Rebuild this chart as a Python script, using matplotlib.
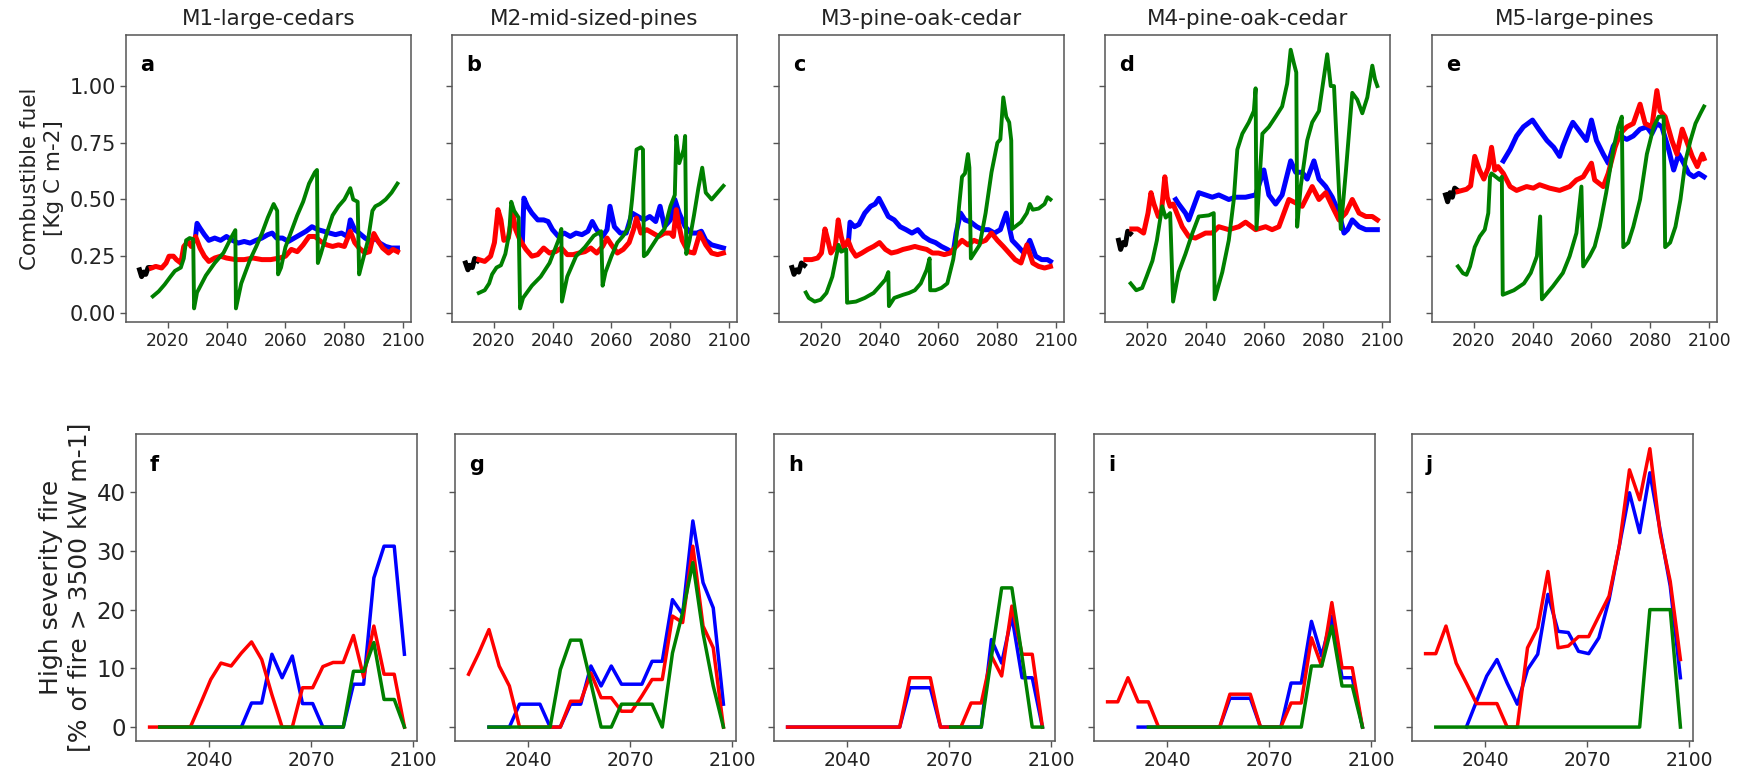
import numpy as np
import matplotlib
matplotlib.use("Agg")
import matplotlib.pyplot as plt

titles = ["M1-large-cedars", "M2-mid-sized-pines", "M3-pine-oak-cedar",
          "M4-pine-oak-cedar", "M5-large-pines"]
letters_top = ["a", "b", "c", "d", "e"]
letters_bot = ["f", "g", "h", "i", "j"]

# ---- top row: combustible fuel, (year, value) pairs ----
a_black = [(2010.5, 0.19), (2011.2, 0.16), (2011.9, 0.18), (2012.6, 0.17), (2013.4, 0.20), (2014.3, 0.20)]
a_red = [(2014.5, 0.198), (2016, 0.205), (2018, 0.198), (2019.5, 0.22), (2020.5, 0.25), (2022, 0.25),
         (2023, 0.235), (2024.5, 0.22), (2025.5, 0.293), (2027, 0.315), (2028, 0.293), (2029.5, 0.337),
         (2031, 0.286), (2032.5, 0.25), (2034, 0.227), (2036, 0.242), (2038, 0.25), (2040, 0.242),
         (2043, 0.235), (2046, 0.235), (2049, 0.242), (2052, 0.235), (2055, 0.235), (2058, 0.242),
         (2060, 0.25), (2062, 0.28), (2064, 0.27), (2066, 0.30), (2068, 0.337), (2070, 0.337),
         (2072, 0.315), (2074, 0.30), (2076, 0.293), (2078, 0.30), (2080, 0.293), (2082, 0.36),
         (2083.5, 0.31), (2085, 0.286), (2087, 0.264), (2088.5, 0.27), (2090, 0.35), (2091.5, 0.315),
         (2093, 0.286), (2095, 0.264), (2096.5, 0.28), (2098, 0.27)]
a_blue = [(2029.5, 0.337), (2030, 0.395), (2031, 0.374), (2032.5, 0.345), (2034, 0.32), (2036, 0.33),
          (2038, 0.32), (2040, 0.337), (2042, 0.32), (2044, 0.308), (2046, 0.315), (2048, 0.308),
          (2050, 0.32), (2052, 0.33), (2054, 0.345), (2055.5, 0.352), (2057, 0.33), (2059, 0.33),
          (2061, 0.315), (2063, 0.33), (2065, 0.345), (2067, 0.36), (2069, 0.38), (2071, 0.367),
          (2073, 0.36), (2075, 0.352), (2077, 0.345), (2079, 0.352), (2081, 0.337), (2082, 0.41),
          (2083.5, 0.367), (2085, 0.352), (2087, 0.33), (2089, 0.315), (2090.5, 0.33), (2092, 0.308),
          (2094, 0.293), (2096, 0.286), (2098, 0.286)]
a_green = [(2015, 0.073), (2017, 0.095), (2019, 0.125), (2021, 0.16), (2022.5, 0.185), (2024.5, 0.20),
           (2025.5, 0.24), (2026.3, 0.32), (2027.5, 0.33), (2028.7, 0.325), (2029.0, 0.02), (2030, 0.09),
           (2033, 0.165), (2036, 0.22), (2039, 0.265), (2041.5, 0.33), (2043, 0.365), (2043.2, 0.02),
           (2045, 0.13), (2048, 0.235), (2050, 0.29), (2052, 0.35), (2054, 0.42), (2056, 0.48),
           (2057.2, 0.45), (2057.5, 0.17), (2058.5, 0.20), (2060, 0.29), (2062, 0.36), (2064, 0.43),
           (2066, 0.49), (2068, 0.57), (2070, 0.62), (2070.7, 0.63), (2071, 0.22), (2072, 0.26),
           (2074, 0.35), (2076, 0.43), (2078, 0.47), (2080, 0.50), (2082, 0.55), (2083, 0.50),
           (2084.5, 0.49), (2085, 0.17), (2086, 0.22), (2088, 0.32), (2089.5, 0.45), (2090.5, 0.47),
           (2092, 0.48), (2094, 0.50), (2096, 0.53), (2098, 0.57)]

b_black = [(2010.5, 0.22), (2011.3, 0.19), (2012.0, 0.21), (2012.8, 0.20), (2013.6, 0.24), (2014.6, 0.23)]
b_red = [(2015, 0.235), (2017, 0.227), (2019, 0.25), (2020.3, 0.31), (2021.5, 0.455), (2022.5, 0.41),
         (2023.5, 0.32), (2025, 0.33), (2026.5, 0.44), (2027.5, 0.367), (2029, 0.32), (2031, 0.28),
         (2033, 0.25), (2035, 0.257), (2037, 0.286), (2039, 0.264), (2041, 0.27), (2043, 0.286),
         (2045, 0.257), (2047, 0.257), (2049, 0.264), (2051, 0.27), (2053, 0.286), (2055, 0.264),
         (2057, 0.293), (2058.5, 0.33), (2060, 0.30), (2062, 0.264), (2064, 0.28), (2066, 0.31),
         (2067.5, 0.367), (2068.5, 0.418), (2070, 0.352), (2072, 0.367), (2074, 0.352), (2076, 0.337),
         (2078, 0.352), (2080, 0.352), (2081, 0.337), (2082, 0.455), (2083, 0.38), (2084, 0.32),
         (2086, 0.27), (2088, 0.264), (2090, 0.352), (2092, 0.30), (2094, 0.264), (2096, 0.257),
         (2098, 0.264)]
b_blue = [(2029.8, 0.32), (2030.3, 0.506), (2031.5, 0.47), (2033, 0.44), (2035, 0.41), (2037, 0.41),
          (2038.5, 0.403), (2040, 0.367), (2042, 0.337), (2044, 0.352), (2046, 0.337), (2048, 0.352),
          (2050, 0.345), (2052, 0.36), (2053.5, 0.403), (2055, 0.367), (2057, 0.337), (2058.5, 0.367),
          (2059.5, 0.47), (2061, 0.38), (2063, 0.352), (2065, 0.352), (2067, 0.44), (2069, 0.425),
          (2071, 0.41), (2073, 0.425), (2075, 0.403), (2076.5, 0.47), (2078, 0.38), (2080, 0.41),
          (2081.5, 0.50), (2083, 0.44), (2085, 0.38), (2087, 0.352), (2089, 0.352), (2090.5, 0.36),
          (2092, 0.32), (2094, 0.30), (2096, 0.293), (2098, 0.286)]
b_green = [(2015, 0.088), (2017, 0.10), (2018.5, 0.13), (2019.5, 0.17), (2021, 0.20), (2022.5, 0.21),
           (2024, 0.26), (2025.3, 0.35), (2026.0, 0.49), (2027, 0.45), (2028.5, 0.42), (2029.0, 0.02),
           (2030, 0.066), (2033, 0.12), (2036, 0.16), (2039, 0.22), (2042, 0.32), (2043, 0.37),
           (2043.2, 0.05), (2045, 0.16), (2048, 0.25), (2051, 0.29), (2054, 0.34), (2056.5, 0.36),
           (2057, 0.12), (2058, 0.18), (2060, 0.25), (2062, 0.31), (2064, 0.34), (2066, 0.38),
           (2067, 0.50), (2068.5, 0.72), (2070, 0.73), (2070.7, 0.72), (2071, 0.25), (2072, 0.26),
           (2074, 0.30), (2076, 0.34), (2078, 0.37), (2080, 0.47), (2081.5, 0.52), (2082, 0.78),
           (2083, 0.66), (2084.5, 0.72), (2085, 0.78), (2085.4, 0.26), (2086.5, 0.32), (2088, 0.43),
           (2089.5, 0.55), (2090.8, 0.64), (2092, 0.53), (2094, 0.50), (2096, 0.53), (2098, 0.56)]

c_black = [(2010.3, 0.20), (2011.0, 0.17), (2011.8, 0.19), (2012.6, 0.18), (2013.5, 0.22), (2014.5, 0.21)]
c_red = [(2015, 0.235), (2017, 0.235), (2019, 0.242), (2020.3, 0.264), (2021.5, 0.37), (2022.5, 0.32),
         (2023.5, 0.264), (2025, 0.293), (2026, 0.41), (2027, 0.337), (2028, 0.286), (2029.3, 0.32),
         (2030.5, 0.28), (2032, 0.25), (2034, 0.264), (2036, 0.28), (2038, 0.293), (2040, 0.31),
         (2042, 0.28), (2044, 0.264), (2046, 0.27), (2048, 0.28), (2050, 0.286), (2052, 0.293),
         (2054, 0.286), (2056, 0.28), (2058, 0.264), (2060, 0.264), (2062, 0.257), (2064, 0.264),
         (2066, 0.293), (2068, 0.32), (2070, 0.30), (2072, 0.32), (2074, 0.31), (2076, 0.32),
         (2078, 0.352), (2080, 0.32), (2082, 0.293), (2084, 0.264), (2086, 0.235), (2088, 0.22),
         (2090, 0.30), (2092, 0.22), (2094, 0.205), (2096, 0.198), (2098, 0.205)]
c_blue = [(2029.5, 0.32), (2030, 0.40), (2031.5, 0.38), (2033, 0.39), (2035, 0.44), (2037, 0.47),
          (2038.5, 0.48), (2039.8, 0.505), (2041, 0.475), (2043, 0.425), (2045, 0.41), (2047, 0.38),
          (2049, 0.367), (2051, 0.352), (2053, 0.367), (2055, 0.337), (2057, 0.32), (2059, 0.31),
          (2061, 0.293), (2063, 0.28), (2065, 0.264), (2066, 0.352), (2067.5, 0.44), (2069, 0.41),
          (2071, 0.40), (2073, 0.38), (2075, 0.367), (2077, 0.367), (2079, 0.352), (2081, 0.367),
          (2083, 0.44), (2085, 0.32), (2087, 0.293), (2089, 0.264), (2091, 0.32), (2093, 0.25),
          (2095, 0.235), (2097, 0.235), (2098, 0.227)]
c_green = [(2015, 0.09), (2016, 0.066), (2018, 0.05), (2020, 0.058), (2022, 0.088), (2024, 0.16),
           (2025.5, 0.26), (2026.1, 0.30), (2027, 0.27), (2028.7, 0.28), (2029, 0.045), (2032, 0.05),
           (2035, 0.066), (2038, 0.088), (2040, 0.117), (2042, 0.147), (2043, 0.18), (2043.2, 0.03),
           (2045, 0.066), (2048, 0.08), (2050, 0.088), (2052, 0.10), (2054, 0.13), (2056, 0.19),
           (2057, 0.24), (2057.2, 0.10), (2059, 0.10), (2061, 0.11), (2063, 0.13), (2065, 0.235),
           (2066, 0.32), (2067, 0.47), (2068, 0.60), (2069, 0.615), (2070, 0.70), (2070.5, 0.64),
           (2071, 0.24), (2072, 0.26), (2074, 0.30), (2076, 0.44), (2078, 0.62), (2080, 0.75),
           (2081, 0.765), (2082, 0.95), (2083, 0.865), (2084, 0.84), (2084.7, 0.76), (2085, 0.37),
           (2086, 0.38), (2088, 0.40), (2090, 0.44), (2091, 0.48), (2092, 0.455), (2094, 0.46),
           (2096, 0.48), (2097, 0.51), (2098, 0.50)]

d_black = [(2010.5, 0.32), (2011.2, 0.28), (2012.0, 0.31), (2012.8, 0.30), (2013.6, 0.36), (2014.5, 0.35)]
d_red = [(2015, 0.37), (2017, 0.37), (2019, 0.352), (2020.5, 0.44), (2021.5, 0.53), (2022.5, 0.48),
         (2024, 0.425), (2025, 0.44), (2026.2, 0.60), (2027, 0.51), (2028, 0.47), (2029, 0.48),
         (2029.8, 0.455), (2032.1, 0.38), (2034.3, 0.337), (2036.6, 0.33), (2040, 0.352), (2042.3, 0.352),
         (2044.5, 0.38), (2047.9, 0.367), (2051.3, 0.38), (2053.6, 0.40), (2057, 0.367), (2060.4, 0.38),
         (2062.6, 0.367), (2064.9, 0.38), (2068.3, 0.50), (2070.6, 0.485), (2072.8, 0.47), (2076.2, 0.557),
         (2078.5, 0.50), (2080.8, 0.53), (2083, 0.47), (2085.3, 0.41), (2087.6, 0.44), (2089.8, 0.50),
         (2092.1, 0.44), (2094.4, 0.425), (2096.6, 0.425), (2098.3, 0.41)]
d_blue = [(2029.9, 0.50), (2030.9, 0.48), (2033.2, 0.44), (2034.3, 0.41), (2037.7, 0.53), (2040, 0.52),
          (2042.3, 0.51), (2044.5, 0.52), (2047.9, 0.50), (2050.1, 0.51), (2053.6, 0.51), (2057, 0.52),
          (2059.8, 0.63), (2061.5, 0.52), (2063.8, 0.48), (2066, 0.52), (2068.9, 0.67), (2070.6, 0.62),
          (2072.8, 0.62), (2074.5, 0.59), (2076.8, 0.67), (2078.5, 0.59), (2080.8, 0.557), (2083, 0.51),
          (2085.3, 0.44), (2087, 0.352), (2088.2, 0.367), (2089.8, 0.41), (2092.1, 0.38), (2094.4, 0.367),
          (2096.6, 0.367), (2098.3, 0.367)]
d_green = [(2014.6, 0.13), (2016.5, 0.10), (2018.5, 0.11), (2020, 0.16), (2022, 0.23), (2023.5, 0.32),
           (2025.3, 0.47), (2026.5, 0.42), (2028, 0.44), (2029, 0.05), (2030.9, 0.18), (2033.2, 0.26),
           (2035.5, 0.35), (2037.7, 0.425), (2041.1, 0.43), (2042.8, 0.44), (2043.1, 0.06), (2045.7, 0.18),
           (2047.9, 0.32), (2049.6, 0.50), (2050.8, 0.72), (2052.5, 0.79), (2054.7, 0.84), (2056.4, 0.89),
           (2057.0, 0.99), (2057.3, 0.37), (2059.3, 0.79), (2061.5, 0.82), (2063.8, 0.865), (2066, 0.91),
           (2067.7, 1.01), (2068.9, 1.16), (2070, 1.10), (2070.8, 1.06), (2071.1, 0.38), (2072.3, 0.557),
           (2074.5, 0.76), (2076.2, 0.84), (2078.5, 0.89), (2081.3, 1.14), (2082.5, 1.0), (2083.6, 1.0),
           (2085.9, 0.37), (2087.6, 0.62), (2089.8, 0.97), (2091.5, 0.94), (2093.2, 0.88), (2094.9, 0.95),
           (2096.6, 1.09), (2097.5, 1.03), (2098.3, 1.0)]

e_black = [(2010.5, 0.52), (2011.2, 0.49), (2012.0, 0.53), (2012.8, 0.51), (2013.6, 0.55), (2014.6, 0.54)]
e_red = [(2014.7, 0.535), (2017.6, 0.545), (2019, 0.56), (2020.4, 0.69), (2022, 0.63), (2023.5, 0.59),
         (2025, 0.64), (2026.1, 0.73), (2027.2, 0.63), (2028.3, 0.645), (2030.1, 0.615), (2032.4, 0.557),
         (2034.6, 0.54), (2038, 0.557), (2040.3, 0.55), (2042.4, 0.565), (2045.8, 0.55), (2049.2, 0.54),
         (2052.6, 0.557), (2054.9, 0.586), (2057.2, 0.60), (2060, 0.66), (2061.1, 0.586), (2064, 0.557),
         (2065.7, 0.615), (2068, 0.73), (2069.7, 0.79), (2072, 0.82), (2074.2, 0.835), (2076.5, 0.92),
         (2078.2, 0.835), (2080.5, 0.82), (2082.2, 0.98), (2083.3, 0.89), (2085, 0.865), (2087.3, 0.76),
         (2089, 0.70), (2090.8, 0.81), (2092.5, 0.75), (2094.2, 0.69), (2095.9, 0.645), (2097.6, 0.70),
         (2098.2, 0.68)]
e_blue = [(2030.1, 0.67), (2032.4, 0.72), (2034.6, 0.78), (2036.9, 0.82), (2040, 0.85), (2042.1, 0.81),
          (2044.9, 0.76), (2047.2, 0.73), (2049.2, 0.69), (2050.3, 0.735), (2052.6, 0.81), (2053.7, 0.84),
          (2056, 0.80), (2058.3, 0.76), (2060, 0.85), (2061.7, 0.76), (2064, 0.70), (2065.7, 0.66),
          (2067.4, 0.735), (2069.7, 0.78), (2072, 0.765), (2074.2, 0.78), (2076.5, 0.81), (2078.8, 0.82),
          (2080.5, 0.79), (2082.2, 0.835), (2083.9, 0.82), (2086.2, 0.72), (2087.9, 0.63), (2089.6, 0.70),
          (2091.3, 0.66), (2093, 0.615), (2094.7, 0.60), (2096.4, 0.615), (2098.2, 0.60)]
e_green = [(2014.7, 0.205), (2016.4, 0.175), (2017.6, 0.168), (2018.8, 0.205), (2020.4, 0.29), (2022.1, 0.337),
           (2023.8, 0.367), (2025, 0.44), (2025.6, 0.60), (2026.1, 0.615), (2028.9, 0.586), (2029.6, 0.60),
           (2029.9, 0.08), (2033.7, 0.10), (2037.1, 0.13), (2039.4, 0.176), (2041.5, 0.25), (2042.6, 0.425),
           (2043.2, 0.06), (2046.9, 0.117), (2050.3, 0.176), (2052.6, 0.25), (2054.9, 0.352), (2056.6, 0.557),
           (2057.2, 0.205), (2059.4, 0.25), (2061.1, 0.293), (2062.8, 0.38), (2065, 0.53), (2067.4, 0.72),
           (2069.1, 0.82), (2070.3, 0.865), (2070.8, 0.29), (2072.5, 0.31), (2074.2, 0.38), (2076.5, 0.50),
           (2078.8, 0.70), (2081.1, 0.82), (2082.8, 0.865), (2084.5, 0.865), (2085, 0.29), (2086.7, 0.31),
           (2088.5, 0.38), (2090.2, 0.50), (2091.9, 0.67), (2093.6, 0.76), (2095.3, 0.835), (2097.0, 0.88),
           (2098.2, 0.91)]

# ---- bottom row: high severity fire (%), 3-year steps ----
sev_years = [2022.5 + 3 * k for k in range(26)]
N = None
f_blue = [N, 0, 0, 0, 0, 0, 0, 0, 0, 0, 4.1, 4.1, 12.4, 8.4, 12.1, 4.0, 4.0, 0, 0, 0, 7.3, 7.3, 25.4, 30.8, 30.8, 12.4]
f_red = [0, 0, 0, 0, 0, 4.0, 8.1, 10.9, 10.4, 12.6, 14.5, 11.5, 5.5, 0, 0, 6.7, 6.7, 10.3, 11.0, 11.0, 15.6, 8.5, 17.2, 9.0, 9.0, 0]
f_green = [N, 0, 0, 0, 0, 0, 0, 0, 0, 0, 0, 0, 0, 0, 0, 0, 0, 0, 0, 0, 9.5, 9.5, 14.4, 4.7, 4.7, 0]

g_blue = [N, N, 0, 0, 0, 3.9, 3.9, 3.9, 0, 0, 3.9, 3.9, 10.4, 7.0, 10.4, 7.3, 7.3, 7.3, 11.2, 11.2, 21.7, 19.2, 35.1, 24.6, 20.3, 3.9]
g_red = [9.0, 12.6, 16.6, 10.4, 7.0, 0, 0, 0, 0, 0, 4.4, 4.4, 9.2, 5.0, 5.0, 2.7, 2.7, 5.3, 8.1, 8.1, 18.9, 17.8, 30.8, 17.2, 13.5, 0]
g_green = [N, N, 0, 0, 0, 0, 0, 0, 0, 9.8, 14.8, 14.8, 7.5, 0, 0, 3.9, 3.9, 3.9, 3.9, 0, 12.6, 19.5, 28.0, 16.0, 7.0, 0]

h_blue = [0, 0, 0, 0, 0, 0, 0, 0, 0, 0, 0, 0, 6.7, 6.7, 6.7, 0, 0, 0, 0, 0, 14.9, 10.9, 18.9, 8.4, 8.4, 0]
h_red = [0, 0, 0, 0, 0, 0, 0, 0, 0, 0, 0, 0, 8.4, 8.4, 8.4, 0, 0, 0, 4.1, 4.1, 12.1, 8.7, 20.6, 12.4, 12.4, 0]
h_green = [N, N, N, N, N, N, N, N, N, N, N, N, N, N, N, N, 0, 0, 0, 0, 12.0, 23.7, 23.7, 12.0, 0, 0]

i_blue = [N, N, N, 0, 0, 0, 0, 0, 0, 0, 0, 0, 4.9, 4.9, 4.9, 0, 0, 0, 7.5, 7.5, 18.0, 12.1, 18.9, 8.4, 8.4, 0]
i_red = [4.3, 4.3, 8.4, 4.3, 4.3, 0, 0, 0, 0, 0, 0, 0, 5.6, 5.6, 5.6, 0, 0, 0, 4.1, 4.1, 15.2, 10.4, 21.2, 10.1, 10.1, 0]
i_green = [N, N, N, N, 0, 0, 0, 0, 0, 0, 0, 0, 0, 0, 0, 0, 0, 0, 0, 0, 10.4, 10.4, 17.2, 7.0, 7.0, 0]

j_blue = [N, N, N, N, 0, 4.4, 8.7, 11.5, 7.5, 3.9, 9.8, 12.4, 22.6, 16.3, 16.1, 12.9, 12.5, 15.2, 21.7, 30.8, 39.9, 33.1, 43.3, 33.6, 24.0, 8.4]
j_red = [12.5, 12.5, 17.2, 10.9, 7.5, 4.0, 4.0, 4.0, 0, 0, 13.5, 16.9, 26.5, 13.5, 13.8, 15.4, 15.4, 18.9, 22.3, 30.8, 43.8, 38.7, 47.4, 33.1, 24.8, 11.5]
j_green = [N, 0, 0, 0, 0, 0, 0, 0, 0, 0, 0, 0, 0, 0, 0, 0, 0, 0, 0, 0, 0, 0, 20, 20, 20, 0]

fuel = [(a_black, a_blue, a_red, a_green), (b_black, b_blue, b_red, b_green),
        (c_black, c_blue, c_red, c_green), (d_black, d_blue, d_red, d_green),
        (e_black, e_blue, e_red, e_green)]
severity = [(f_blue, f_red, f_green), (g_blue, g_red, g_green), (h_blue, h_red, h_green),
            (i_blue, i_red, i_green), (j_blue, j_red, j_green)]

W, H = 1737, 773
fig = plt.figure(figsize=(W / 100, H / 100), dpi=100)
spine_col = "#555555"
text_col = "#222222"


def px_axes(left, top, right, bottom):
    return fig.add_axes([left / W, 1 - bottom / H, (right - left) / W, (bottom - top) / H])


def style(ax):
    for s in ax.spines.values():
        s.set_color(spine_col)
        s.set_linewidth(1.1)
    ax.tick_params(colors=spine_col, labelcolor=text_col, width=1.0, length=4)


top_left = [126, 452, 779, 1105, 1432]
bot_left = [136, 455, 774, 1094, 1412]

for i in range(5):
    ax = px_axes(top_left[i], 35, top_left[i] + 285, 322)
    style(ax)
    blk, blu, red, grn = fuel[i]
    for series, col, lw in [(blk, "black", 3.6), (blu, "blue", 3.6), (red, "red", 3.6), (grn, "green", 2.8)]:
        xs, ys = zip(*series)
        ax.plot(xs, ys, color=col, lw=lw, solid_joinstyle="round")
    ax.set_xlim(2005.9, 2102.6)
    ax.set_ylim(-0.04, 1.225)
    ax.set_xticks([2020, 2040, 2060, 2080, 2100])
    ax.set_yticks([0, 0.25, 0.5, 0.75, 1.0])
    ax.tick_params(axis="x", labelsize=12.3)
    ax.tick_params(axis="y", labelsize=15)
    if i == 0:
        ax.set_yticklabels(["0.00", "0.25", "0.50", "0.75", "1.00"])
        ax.set_ylabel("Combustible fuel\n[Kg C m-2]", fontsize=15.5, color=text_col, labelpad=4)
    else:
        ax.set_yticklabels([])
    ax.set_title(titles[i], fontsize=15.5, color=text_col, pad=7)
    ax.text(0.05, 0.93, letters_top[i], transform=ax.transAxes, fontsize=15,
            fontweight="bold", va="top", ha="left")

yrs = np.array(sev_years)
for i in range(5):
    ax = px_axes(bot_left[i], 434, bot_left[i] + 281, 741)
    style(ax)
    for vals, col in zip(severity[i], ["blue", "red", "green"]):
        v = np.array([np.nan if x is None else x for x in vals], dtype=float)
        ax.plot(yrs, v, color=col, lw=2.5)
    ax.set_xlim(2018.5, 2101.2)
    ax.set_ylim(-2.37, 49.9)
    ax.set_xticks([2040, 2070, 2100])
    ax.set_yticks([0, 10, 20, 30, 40])
    ax.tick_params(axis="x", labelsize=13.5)
    ax.tick_params(axis="y", labelsize=16.5)
    if i == 0:
        ax.set_ylabel("High severity fire\n[% of fire > 3500 kW m-1]", fontsize=18,
                      color=text_col, labelpad=4)
    else:
        ax.set_yticklabels([])
    ax.text(0.05, 0.93, letters_bot[i], transform=ax.transAxes, fontsize=15,
            fontweight="bold", va="top", ha="left")

fig.savefig("out.png", dpi=100)
